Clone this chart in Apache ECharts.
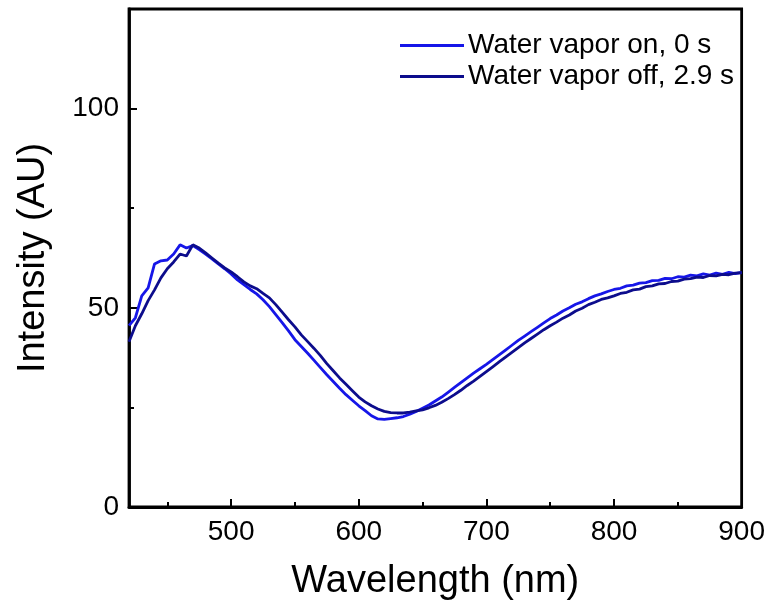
<!DOCTYPE html>
<html>
<head>
<meta charset="utf-8">
<script src="https://cdn.jsdelivr.net/npm/echarts@6/dist/echarts.min.js"></script>
<style>
  html, body { margin: 0; padding: 0; background: #fff; }
  #chart { width: 768px; height: 607px; }
</style>
</head>
<body>
<div id="chart"></div>
<script>
// Wavelength grid (nm), 5 nm steps
const wavelength = [];
for (let w = 420; w <= 900; w += 5) wavelength.push(w);

// Spectrum with water vapor on (0 s)
const vaporOn = [
  45.5, 47.5, 53.0, 55.0, 61.0, 61.8, 62.0, 63.5, 65.8, 65.0,
  65.6, 64.6, 63.5, 62.3, 61.0, 59.8, 58.5, 57.0, 55.8, 54.6,
  53.5, 52.0, 50.3, 48.3, 46.3, 44.2, 42.0, 40.3, 38.6, 36.8,
  35.0, 33.2, 31.5, 29.8, 28.2, 26.8, 25.4, 24.2, 22.9, 22.1,
  22.0, 22.2, 22.4, 22.7, 23.3, 24.0, 24.8, 25.6, 26.6, 27.6,
  28.8, 30.0, 31.2, 32.4, 33.6, 34.7, 35.8, 37.0, 38.2, 39.4,
  40.6, 41.8, 42.9, 44.0, 45.1, 46.2, 47.3, 48.2, 49.2, 50.0,
  50.9, 51.5, 52.3, 53.0, 53.5, 54.1, 54.6, 54.9, 55.5, 55.7,
  56.2, 56.3, 56.8, 56.9, 57.4, 57.3, 57.8, 57.7, 58.2, 58.0,
  58.5, 58.2, 58.7, 58.4, 58.9, 58.6, 58.9
];

// Spectrum after water vapor off (2.9 s)
const vaporOff = [
  41.5, 45.5, 48.5, 51.8, 54.5, 57.5, 59.8, 61.5, 63.5, 63.0,
  65.8, 65.0, 63.8, 62.5, 61.2, 60.0, 59.0, 57.8, 56.5, 55.5,
  54.8, 53.6, 52.5, 50.8, 48.9, 47.0, 45.2, 43.2, 41.5, 39.8,
  38.0, 36.0, 34.2, 32.4, 30.8, 29.2, 27.6, 26.4, 25.4, 24.6,
  24.0, 23.7, 23.6, 23.6, 23.8, 24.1, 24.4, 24.9, 25.5, 26.3,
  27.2, 28.2, 29.3, 30.5, 31.6, 32.8, 34.0, 35.2, 36.4, 37.6,
  38.8, 40.0, 41.2, 42.3, 43.4, 44.5, 45.5, 46.4, 47.4, 48.2,
  49.2, 49.9, 50.8, 51.4, 52.1, 52.5, 53.0, 53.6, 53.9, 54.5,
  54.7, 55.3, 55.5, 56.0, 56.1, 56.6, 56.7, 57.2, 57.3, 57.7,
  57.6, 58.1, 58.0, 58.4, 58.3, 58.7, 58.8
];

const seriesNames = ['Water vapor on, 0 s', 'Water vapor off, 2.9 s'];
const xMajorTicks = [500, 600, 700, 800, 900];
const xMinorTicks = [450, 550, 650, 750, 850];
const yMajorTicks = [0, 50, 100];
const yMinorTicks = [25, 75];

const pairs = (ys) => wavelength.map((w, i) => [w, ys[i]]);

const FONT = 'Liberation Sans, Arial, sans-serif';
const AXIS_W = 2.8;

const chart = echarts.init(document.getElementById('chart'), null, { renderer: 'canvas' });

chart.setOption({
  animation: false,
  backgroundColor: '#ffffff',
  grid: {
    left: 129, right: 26, top: 9, bottom: 100,
    show: true, borderColor: '#000', borderWidth: AXIS_W, backgroundColor: 'transparent'
  },
  legend: {
    orient: 'vertical',
    left: 395, top: 25,
    itemWidth: 64, itemHeight: 3, itemGap: 0,
    icon: 'rect',
    textStyle: { fontFamily: FONT, fontSize: 28, color: '#000', lineHeight: 31, padding: [0, 0, 0, -1] },
    data: seriesNames
  },
  xAxis: [
    {
      type: 'value', min: 420, max: 900,
      splitLine: { show: false },
      axisLine: { show: true, onZero: false, lineStyle: { color: '#000', width: AXIS_W } },
      axisTick: { show: true, inside: true, length: 8, customValues: xMajorTicks, lineStyle: { color: '#000', width: 2 } },
      axisLabel: { customValues: xMajorTicks, margin: 11, fontFamily: FONT, fontSize: 28, color: '#000' },
      name: 'Wavelength (nm)', nameLocation: 'middle', nameGap: 56,
      nameTextStyle: { fontFamily: FONT, fontSize: 38, color: '#000' }
    },
    {
      type: 'value', min: 420, max: 900, position: 'bottom',
      splitLine: { show: false },
      axisLine: { show: false },
      axisTick: { show: true, inside: true, length: 5, customValues: xMinorTicks, lineStyle: { color: '#000', width: 2 } },
      axisLabel: { show: false }
    }
  ],
  yAxis: [
    {
      type: 'value', min: 0, max: 125,
      splitLine: { show: false },
      axisLine: { show: true, onZero: false, lineStyle: { color: '#000', width: AXIS_W } },
      axisTick: { show: true, inside: true, length: 8, customValues: yMajorTicks, lineStyle: { color: '#000', width: 2 } },
      axisLabel: { customValues: yMajorTicks, margin: 10, fontFamily: FONT, fontSize: 28, color: '#000' },
      name: 'Intensity (AU)', nameLocation: 'middle', nameGap: 76, nameRotate: 90,
      nameTextStyle: { fontFamily: FONT, fontSize: 38, color: '#000' }
    },
    {
      type: 'value', min: 0, max: 125, position: 'left',
      splitLine: { show: false },
      axisLine: { show: false },
      axisTick: { show: true, inside: true, length: 5, customValues: yMinorTicks, lineStyle: { color: '#000', width: 2 } },
      axisLabel: { show: false }
    }
  ],
  series: [
    {
      name: seriesNames[0], type: 'line', data: pairs(vaporOn),
      showSymbol: false, symbol: 'none', smooth: false,
      lineStyle: { color: '#1616e8', width: 2.8 }, itemStyle: { color: '#1616e8' }
    },
    {
      name: seriesNames[1], type: 'line', data: pairs(vaporOff),
      showSymbol: false, symbol: 'none', smooth: false,
      lineStyle: { color: '#0c0c8c', width: 2.8 }, itemStyle: { color: '#0c0c8c' }
    }
  ]
});
</script>
</body>
</html>
